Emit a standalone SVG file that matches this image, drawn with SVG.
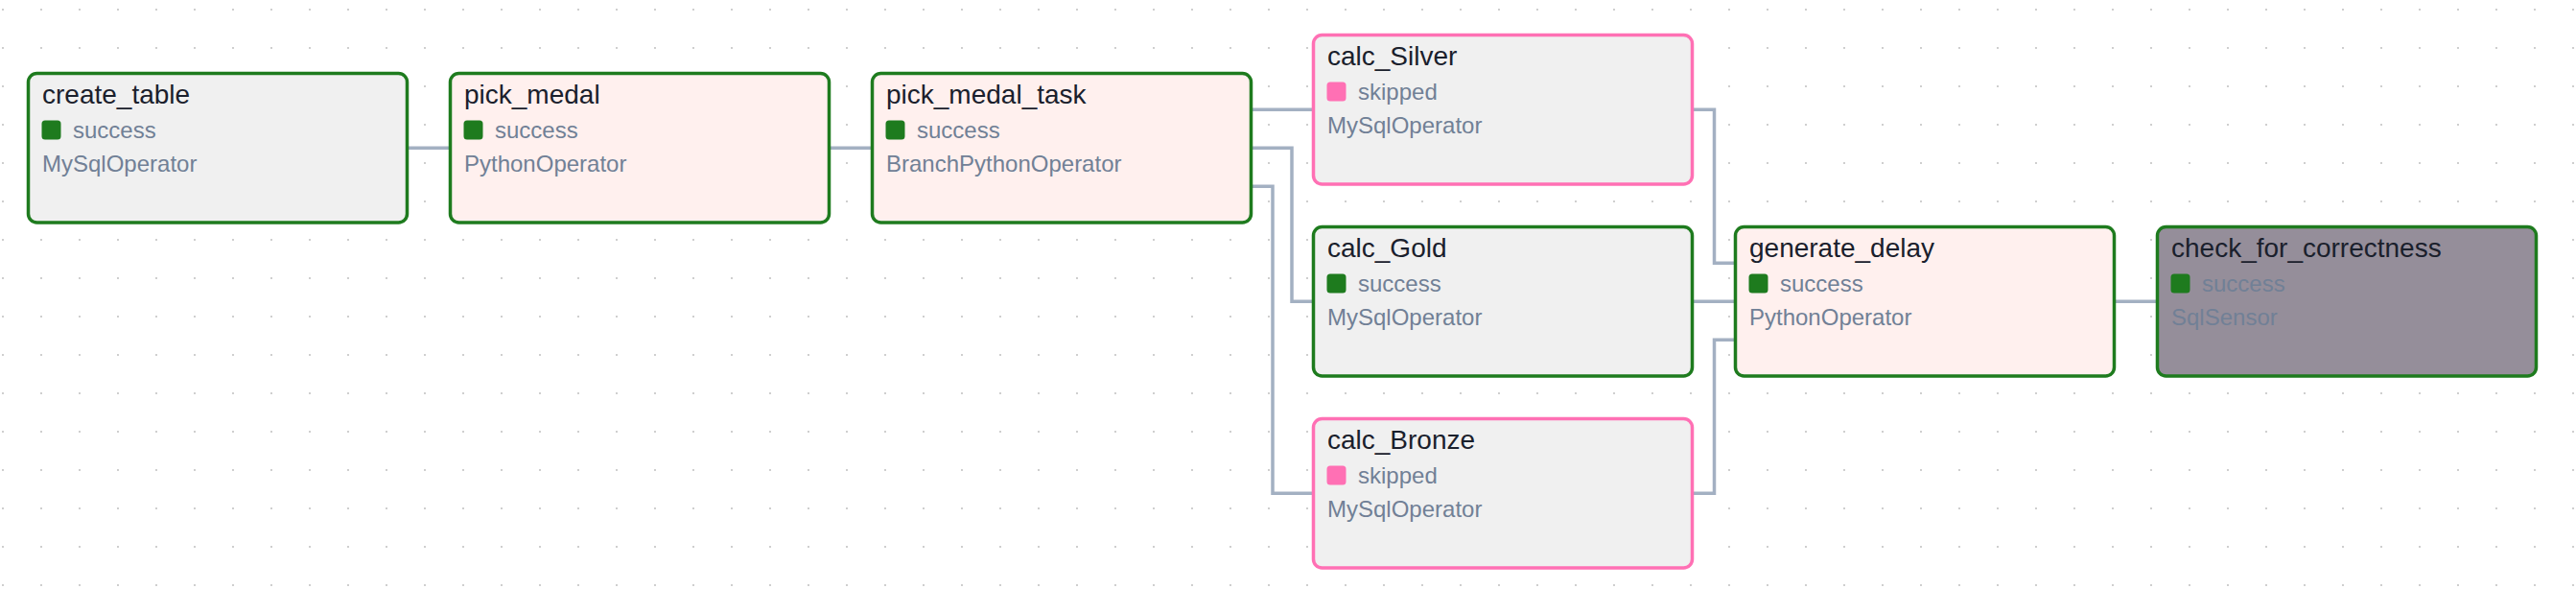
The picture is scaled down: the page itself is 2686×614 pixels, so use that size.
<svg xmlns="http://www.w3.org/2000/svg" width="2686" height="614" viewBox="0 0 2686 614">
<style>
.node rect.box{stroke-width:3.5}
.ok{stroke:#1e7b1e}
.sk{stroke:#ff70b4}
.gray{fill:#f0f0f0}
.pink{fill:#fff0ee}
.dark{fill:#958e9a}
.title{font-family:"Liberation Sans",Arial,sans-serif;font-size:28px;fill:#1a202c}
.sub{font-family:"Liberation Sans",Arial,sans-serif;font-size:24px;fill:#718096}
.sq-ok{fill:#1e7b1e}
.sq-sk{fill:#ff70b4}
.edges path{fill:none;stroke:#a3b0c2;stroke-width:3.5}
</style>
<defs>
<pattern id="dots" patternUnits="userSpaceOnUse" x="0" y="0" width="40" height="40">
<circle cx="3" cy="10" r="0.9" fill="#b8b8b8"/>
</pattern>
</defs>
<rect width="2686" height="614" fill="#ffffff"/>
<rect width="2686" height="614" fill="url(#dots)"/>
<g class="edges" id="edges">
<path d="M425 154.3H469.5"/>
<path d="M865 154.3H909.5"/>
<path d="M1305 114.3H1369.5"/>
<path d="M1305 154.3H1347V314.3H1369.5"/>
<path d="M1305 194.3H1327V514.3H1369.5"/>
<path d="M1764.5 114.3H1787.5V274.3H1809.5"/>
<path d="M1764.5 314.3H1809.5"/>
<path d="M1764.5 514.3H1787.5V354.3H1809.5"/>
<path d="M2204.5 314.3H2249.5"/>
</g>
<g class="node" id="create_table" transform="translate(29.5,76.5)">
<rect class="box gray ok" width="395" height="155.5" rx="9"/>
<text class="title" x="14.5" y="31.5">create_table</text>
<rect class="sq-ok" x="14" y="49" width="20" height="20" rx="3.5"/>
<text class="sub" x="46.5" y="67">success</text>
<text class="sub" x="14.5" y="102">MySqlOperator</text>
</g>
<g class="node" id="pick_medal" transform="translate(469.5,76.5)">
<rect class="box pink ok" width="395" height="155.5" rx="9"/>
<text class="title" x="14.5" y="31.5">pick_medal</text>
<rect class="sq-ok" x="14" y="49" width="20" height="20" rx="3.5"/>
<text class="sub" x="46.5" y="67">success</text>
<text class="sub" x="14.5" y="102">PythonOperator</text>
</g>
<g class="node" id="pick_medal_task" transform="translate(909.5,76.5)">
<rect class="box pink ok" width="395" height="155.5" rx="9"/>
<text class="title" x="14.5" y="31.5">pick_medal_task</text>
<rect class="sq-ok" x="14" y="49" width="20" height="20" rx="3.5"/>
<text class="sub" x="46.5" y="67">success</text>
<text class="sub" x="14.5" y="102">BranchPythonOperator</text>
</g>
<g class="node" id="calc_Silver" transform="translate(1369.5,36.5)">
<rect class="box gray sk" width="395" height="155.5" rx="9"/>
<text class="title" x="14.5" y="31.5">calc_Silver</text>
<rect class="sq-sk" x="14" y="49" width="20" height="20" rx="3.5"/>
<text class="sub" x="46.5" y="67">skipped</text>
<text class="sub" x="14.5" y="102">MySqlOperator</text>
</g>
<g class="node" id="calc_Gold" transform="translate(1369.5,236.5)">
<rect class="box gray ok" width="395" height="155.5" rx="9"/>
<text class="title" x="14.5" y="31.5">calc_Gold</text>
<rect class="sq-ok" x="14" y="49" width="20" height="20" rx="3.5"/>
<text class="sub" x="46.5" y="67">success</text>
<text class="sub" x="14.5" y="102">MySqlOperator</text>
</g>
<g class="node" id="calc_Bronze" transform="translate(1369.5,436.5)">
<rect class="box gray sk" width="395" height="155.5" rx="9"/>
<text class="title" x="14.5" y="31.5">calc_Bronze</text>
<rect class="sq-sk" x="14" y="49" width="20" height="20" rx="3.5"/>
<text class="sub" x="46.5" y="67">skipped</text>
<text class="sub" x="14.5" y="102">MySqlOperator</text>
</g>
<g class="node" id="generate_delay" transform="translate(1809.5,236.5)">
<rect class="box pink ok" width="395" height="155.5" rx="9"/>
<text class="title" x="14.5" y="31.5">generate_delay</text>
<rect class="sq-ok" x="14" y="49" width="20" height="20" rx="3.5"/>
<text class="sub" x="46.5" y="67">success</text>
<text class="sub" x="14.5" y="102">PythonOperator</text>
</g>
<g class="node" id="check_for_correctness" transform="translate(2249.5,236.5)">
<rect class="box dark ok" width="395" height="155.5" rx="9"/>
<text class="title" x="14.5" y="31.5">check_for_correctness</text>
<rect class="sq-ok" x="14" y="49" width="20" height="20" rx="3.5"/>
<text class="sub" x="46.5" y="67">success</text>
<text class="sub" x="14.5" y="102">SqlSensor</text>
</g>
</svg>
